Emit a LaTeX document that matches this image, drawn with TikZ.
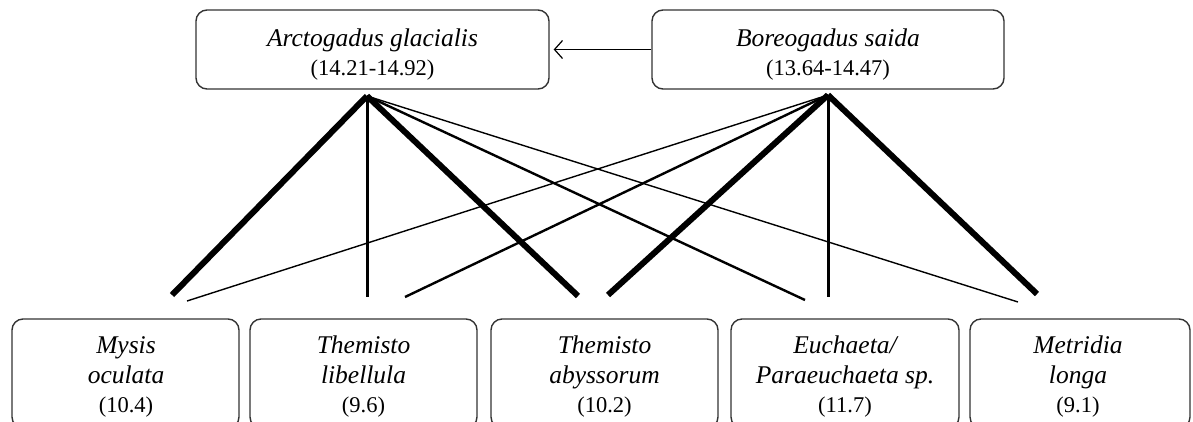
\documentclass[tikz,border=0pt]{standalone}
\usepackage{fontspec}
\setmainfont{Liberation Serif}
\usetikzlibrary{arrows.meta,calc}
\newcommand{\spname}[1]{{\fontsize{25.5}{29.5}\selectfont\itshape #1}}
\begin{document}
\begin{tikzpicture}[x=1pt,y=-1pt,
  box/.style={draw=black!80, line width=1.4pt, rounded corners=11pt, inner sep=0pt},
  topbox/.style={box, minimum height=79pt},
  botbox/.style={box, minimum height=109pt},
  txt/.style={align=center, font=\fontsize{22.5}{29.5}\selectfont, inner sep=0pt},
  wthick/.style={line width=6pt},
  wmid/.style={line width=3pt},
  wmidthin/.style={line width=2.4pt},
  wthin/.style={line width=1.4pt},
  feeds/.style={line width=1.2pt, -{Straight Barb[length=8pt,width=18pt]}, shorten >=4pt}]
\useasboundingbox (0,0) rectangle (1193,421);
\clip (0,0) rectangle (1193,421);
% top boxes
\node[topbox, minimum width=353pt] (arcto) at (372.5,49.5) {};
\node[topbox, minimum width=352pt] (boreo) at (828,49.5) {};
\node[txt] (arctot) at ($(arcto.center)+(0,5)$) {\spname{Arctogadus glacialis}\\(14.21-14.92)};
\node[txt] (boreot) at ($(boreo.center)+(0,5)$) {\spname{Boreogadus saida}\\(13.64-14.47)};
% bottom boxes
\node[botbox, minimum width=227pt] (mysis) at (125.5,373.5) {};
\node[botbox, minimum width=227pt] (tlib) at (363.5,373.5) {};
\node[botbox, minimum width=227pt] (taby) at (604.5,373.5) {};
\node[botbox, minimum width=228pt] (euch) at (845,373.5) {};
\node[botbox, minimum width=220pt] (metr) at (1080,373.5) {};
\node[txt] (mysist) at (126,377) {\spname{Mysis}\\\spname{oculata}\\(10.4)};
\node[txt] (tlibt) at (363.5,377) {\spname{Themisto}\\\spname{libellula}\\(9.6)};
\node[txt] (tabyt) at (604.5,377) {\spname{Themisto}\\\spname{abyssorum}\\(10.2)};
\node[txt] (eucht) at (845,377) {\spname{Euchaeta/}\\\spname{Paraeuchaeta sp.}\\(11.7)};
\node[txt] (metrt) at (1078,377) {\spname{Metridia}\\\spname{longa}\\(9.1)};
% predation arrow
\draw[feeds] (boreo.west) -- (arcto.east);
% hubs and endpoints
\coordinate (ah) at (367,96);
\coordinate (bh) at (828,95);
\coordinate (am) at (172,295);
\coordinate (bm) at (187,301);
\coordinate (al) at (367,297);
\coordinate (bl) at (405,297);
\coordinate (aa) at (578,296);
\coordinate (ba) at (608,295);
\coordinate (ae) at (805,300);
\coordinate (be) at (828,297);
\coordinate (ar) at (1018,302);
\coordinate (br) at (1037,294);
% diet links
\draw[wthick] (ah) -- (am);
\draw[wmid] (ah) -- (al);
\draw[wthick] (ah) -- (aa);
\draw[wmidthin] (ah) -- (ae);
\draw[wthin] (ah) -- (ar);
\draw[wthin] (bh) -- (bm);
\draw[wmidthin] (bh) -- (bl);
\draw[wthick] (bh) -- (ba);
\draw[wmid] (bh) -- (be);
\draw[wthick] (bh) -- (br);
\end{tikzpicture}
\end{document}
